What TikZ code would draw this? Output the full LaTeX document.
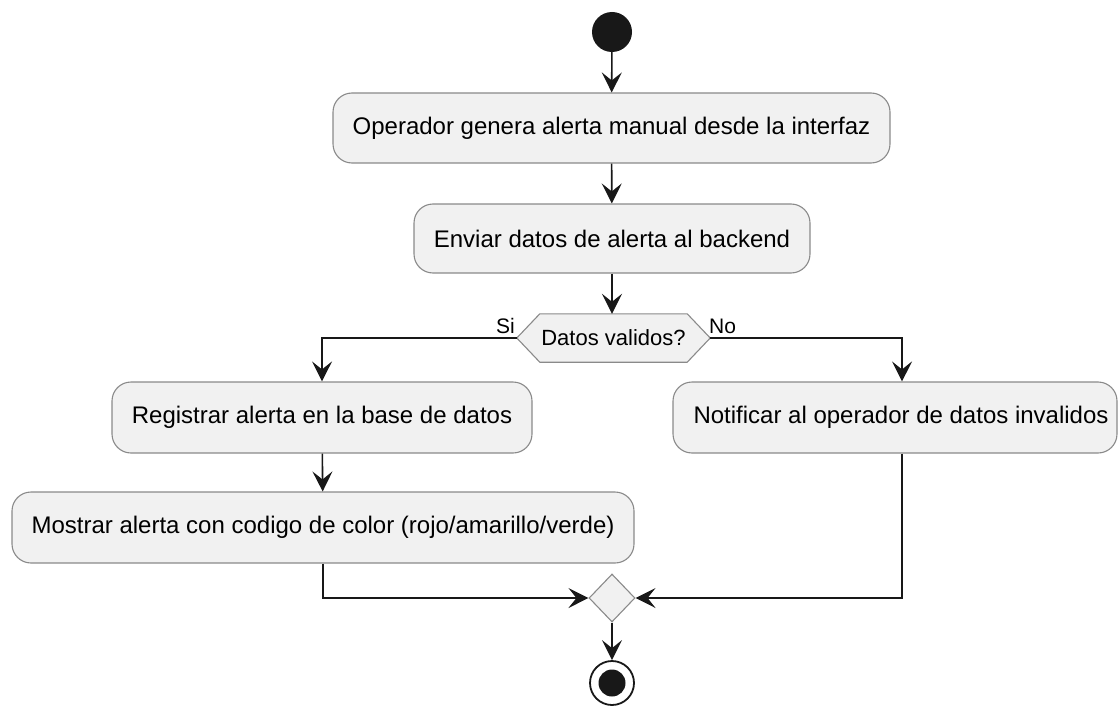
\documentclass[tikz,border=0pt]{standalone}
\usepackage{fontspec}
\setmainfont{Liberation Sans}
\usetikzlibrary{arrows.meta,shapes.geometric,backgrounds}
\definecolor{boxfill}{HTML}{F1F1F1}
\definecolor{boxline}{HTML}{8A8A8A}
\definecolor{ink}{HTML}{181818}
\begin{document}
\begin{tikzpicture}[x=1pt,y=-1pt,
  action/.style={draw=boxline, line width=1.1pt, fill=boxfill, rounded corners=19pt,
    inner sep=0pt, font=\fontsize{24}{28}\selectfont},
  flow/.style={draw=ink, line width=1.6pt,
    -{Stealth[length=20pt, width=20pt, inset=8pt]}},
  plain/.style={draw=ink, line width=1.6pt},
  lbl/.style={font=\fontsize{21}{24}\selectfont, inner sep=0pt}]
\useasboundingbox (0,0) rectangle (1118,706);

% start
\node (start) [circle, fill=ink, minimum size=40pt, inner sep=0pt] at (612,32) {};

% actions
\node (b1) [action, minimum width=557pt, minimum height=70pt] at (611.5,128)
  {Operador genera alerta manual desde la interfaz};
\node (b2) [action, minimum width=396pt, minimum height=69pt] at (612,238.5)
  {Enviar datos de alerta al backend};

% decision
\node (dec) [inner sep=0pt, minimum width=193pt, minimum height=48pt,
  font=\fontsize{22}{26}\selectfont] at (613.5,338) {Datos validos?};
\begin{scope}[on background layer]
  \draw[draw=boxline, line width=1.1pt, fill=boxfill]
    (dec.west) -- ([xshift=23pt]dec.north west) -- ([xshift=-23pt]dec.north east)
    -- (dec.east) -- ([xshift=-23pt]dec.south east) -- ([xshift=23pt]dec.south west) -- cycle;
\end{scope}

\node (b3) [action, minimum width=420pt, minimum height=71pt] at (322,417.5)
  {Registrar alerta en la base de datos};
\node (b4) [action, minimum width=444pt, minimum height=71pt] at (895,417.5) {};
\node (b4t) [font=\fontsize{24}{28}\selectfont, inner sep=0pt] at (901,417.5)
  {Notificar al operador de datos invalidos};
\node (b5) [action, minimum width=622pt, minimum height=71pt] at (323,527.5)
  {Mostrar alerta con codigo de color (rojo/amarillo/verde)};

% merge and end
\node (merge) [diamond, draw=boxline, line width=1.1pt, fill=boxfill, inner sep=0pt,
  minimum width=46pt, minimum height=48pt] at (612,598) {};
\node (endo) [circle, draw=ink, line width=1.8pt, fill=white, minimum size=44pt, inner sep=0pt]
  at (612,683) {};
\node (endi) [circle, fill=ink, minimum size=27pt, inner sep=0pt] at (endo) {};

% branch labels
\node (si) [lbl, anchor=base east] at (515,333) {Si};
\node (no) [lbl, anchor=base west] at (709,333) {No};

% connectors
\draw[flow] (start) -- (b1);
\draw[flow] (b1) -- (b2);
\draw[flow] (b2) -- (dec.north -| b2);
\draw[flow] (dec.west) -| (b3.north);
\draw[flow] (dec.east) -| ([xshift=7pt]b4.north);
\draw[flow] (b3) -- (b5);
\draw[flow] (b5.south) |- (merge.west);
\draw[flow] ([xshift=7pt]b4.south) |- (merge.east);
\draw[flow] (merge) -- (endo);
\end{tikzpicture}
\end{document}
